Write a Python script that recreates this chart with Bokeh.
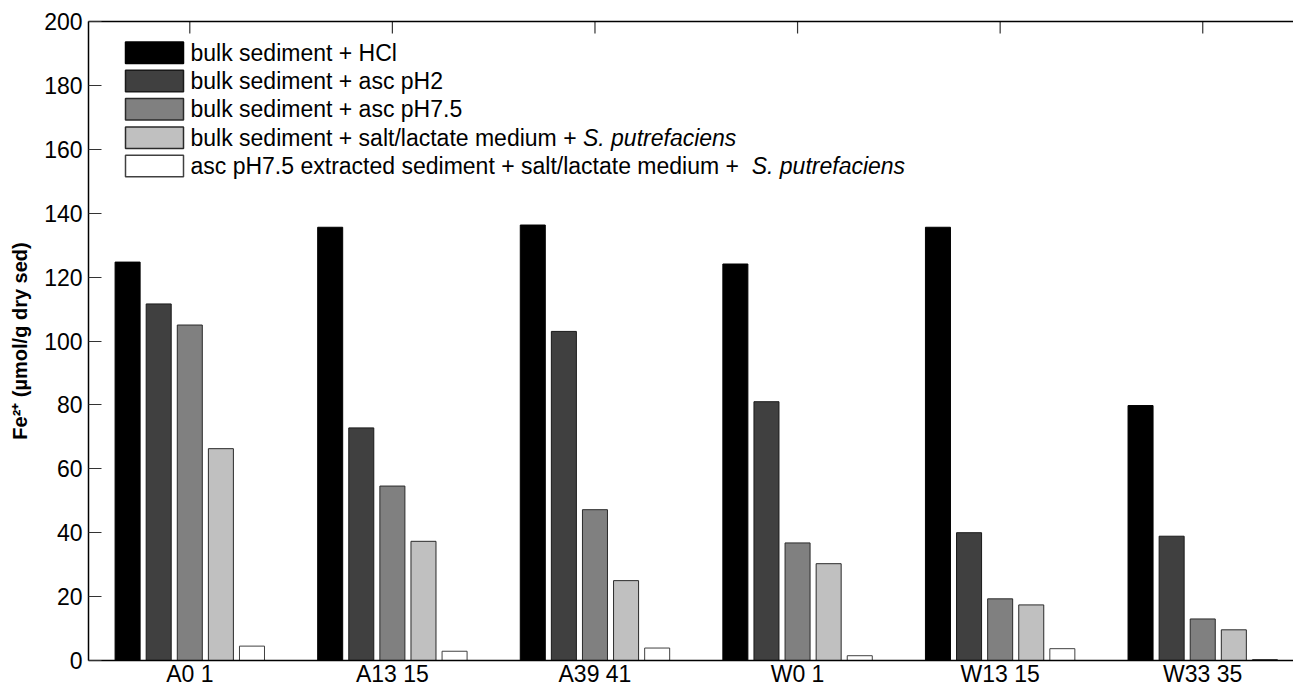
import math
from bokeh.plotting import figure
from bokeh.models import (ColumnDataSource, Range1d, FixedTicker, LinearAxis,
                          BoxAnnotation, Label)
from bokeh.transform import dodge
from bokeh.embed import file_html
from bokeh.resources import INLINE

# ---------------- data ----------------
sites = ["A0 1", "A13 15", "A39 41", "W0 1", "W13 15", "W33 35"]
hcl = [124.7, 135.6, 136.3, 124.1, 135.6, 79.8]
asc_ph2 = [111.6, 72.8, 103.0, 81.0, 40.0, 38.9]
asc_ph75 = [105.0, 54.6, 47.2, 36.8, 19.3, 13.0]
salt_lactate = [66.3, 37.3, 25.0, 30.3, 17.4, 9.6]
extracted = [4.5, 2.9, 3.9, 1.5, 3.7, 0.3]
y_ticks = [0, 20, 40, 60, 80, 100, 120, 140, 160, 180, 200]

series_keys = ["hcl", "asc_ph2", "asc_ph75", "salt_lactate", "extracted"]
legend_plain = [
    "bulk sediment + HCl",
    "bulk sediment + asc pH2",
    "bulk sediment + asc pH7.5",
    "bulk sediment + salt/lactate medium + ",
    "asc pH7.5 extracted sediment + salt/lactate medium +  ",
]
legend_italic = ["", "", "", "S. putrefaciens", "S. putrefaciens"]
fills = ["#000000", "#404040", "#808080", "#c0c0c0", "#ffffff"]
edges = ["#000000", "#1a1a1a", "#2a2a2a", "#2a2a2a", "#404040"]

x_pos = list(range(1, len(sites) + 1))
src = ColumnDataSource(dict(
    x=x_pos, hcl=hcl, asc_ph2=asc_ph2, asc_ph75=asc_ph75,
    salt_lactate=salt_lactate, extracted=extracted,
    top=[200] * len(sites),
))

FONT = "Liberation Sans"
FS = 23

W, H = 1293, 689
FRAME_LEFT, FRAME_TOP, FRAME_BOTTOM = 88, 21, 660
p = figure(width=W, height=H, output_backend="svg", toolbar_location=None,
           x_range=Range1d(0.5, 6.448), y_range=Range1d(0, 200),
           min_border_left=FRAME_LEFT, min_border_right=0,
           min_border_top=FRAME_TOP, min_border_bottom=H - FRAME_BOTTOM)
p.outline_line_color = None
p.xgrid.grid_line_color = None
p.ygrid.grid_line_color = None
p.background_fill_color = "white"
p.border_fill_color = "white"

pitch = 0.1535
bw = 0.1235
for i, k in enumerate(series_keys):
    off = (i - 2) * pitch
    p.vbar(x=dodge("x", off), top=k, width=bw, bottom=0, source=src,
           fill_color=fills[i], line_color=edges[i], line_width=1)

# inward ticks on the top edge at the category positions
p.scatter(x="x", y="top", source=src, marker="dash", angle=math.pi / 2,
          size=24, line_color="#333333", line_width=1.2)

# axes styling
xa = p.xaxis[0]
xa.ticker = FixedTicker(ticks=x_pos)
xa.major_label_overrides = {i + 1: s for i, s in enumerate(sites)}
xa.major_tick_in = 0
xa.major_tick_out = 0
xa.minor_tick_in = 0
xa.minor_tick_out = 0
xa.major_label_standoff = 0
xa.major_label_text_font = FONT
xa.major_label_text_font_size = f"{FS}px"
xa.major_label_text_color = "black"
xa.axis_line_color = "black"
xa.axis_line_width = 1.5

ya = p.yaxis[0]
ya.ticker = FixedTicker(ticks=y_ticks)
ya.major_tick_in = 13
ya.major_tick_out = 0
ya.minor_tick_in = 0
ya.minor_tick_out = 0
ya.major_tick_line_color = "#333333"
ya.major_label_standoff = 6
ya.major_label_text_font = FONT
ya.major_label_text_font_size = f"{FS}px"
ya.major_label_text_color = "black"
ya.axis_line_color = "black"
ya.axis_line_width = 1.5
ya.axis_label = "Fe²⁺ (µmol/g dry sed)"
ya.axis_label_text_font = FONT
ya.axis_label_text_font_style = "bold"
ya.axis_label_text_font_size = "20px"
ya.axis_label_text_color = "black"
ya.axis_label_standoff = 10

top_axis = LinearAxis(ticker=FixedTicker(ticks=[]), major_tick_in=0,
                      major_tick_out=0, minor_tick_in=0, minor_tick_out=0,
                      axis_line_color="black", axis_line_width=1.5)
p.add_layout(top_axis, "above")

# ---------------- legend (manual, screen units relative to frame) -------------
# Arial / Liberation Sans advance widths (1/1000 em)
AW = {" ": 278, "+": 584, "/": 278, ".": 278, "2": 556, "5": 556, "7": 556,
      "H": 722, "C": 722, "S": 667, "a": 556, "b": 556, "c": 500, "d": 556,
      "e": 556, "f": 278, "g": 556, "h": 556, "i": 222, "k": 500, "l": 222,
      "m": 833, "n": 556, "o": 556, "p": 556, "r": 333, "s": 500, "t": 278,
      "u": 556, "x": 500, "y": 500}


def text_w(s, size):
    return sum(AW.get(c, 556) for c in s) * size / 1000.0


row_top0 = 41.5
row_pitch = 28.3
sw_h = 21.5
sw_left, sw_right = 125, 183
txt_x = 190
for i in range(len(series_keys)):
    top_pg = row_top0 + i * row_pitch
    bot_pg = top_pg + sw_h
    p.add_layout(BoxAnnotation(
        left=sw_left - FRAME_LEFT, right=sw_right - FRAME_LEFT,
        top=FRAME_BOTTOM - top_pg, bottom=FRAME_BOTTOM - bot_pg,
        left_units="screen", right_units="screen",
        top_units="screen", bottom_units="screen",
        fill_color=fills[i], fill_alpha=1.0,
        line_color=edges[i] if i else "#000000", line_width=1.5,
        line_alpha=1.0))
    cy = FRAME_BOTTOM - (top_pg + sw_h / 2)
    p.add_layout(Label(x=txt_x - FRAME_LEFT, y=cy, x_units="screen",
                       y_units="screen", text=legend_plain[i],
                       text_font=FONT, text_font_size=f"{FS}px",
                       text_color="black", text_baseline="middle",
                       text_align="left"))
    if legend_italic[i]:
        ix = txt_x + text_w(legend_plain[i], FS)
        p.add_layout(Label(x=ix - FRAME_LEFT, y=cy, x_units="screen",
                           y_units="screen", text=legend_italic[i],
                           text_font=FONT, text_font_size=f"{FS}px",
                           text_font_style="italic",
                           text_color="black", text_baseline="middle",
                           text_align="left"))

open("out.html", "w").write(file_html(p, INLINE))
